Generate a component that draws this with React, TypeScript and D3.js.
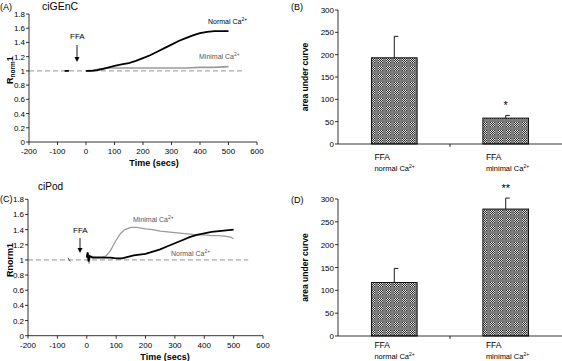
import React from "react";
import * as d3 from "d3";

const W = 562;
const H = 361;
const FONT = "Liberation Sans, Arial, sans-serif";

// Panel A (ciGEnC) traces: [time, Rnorm1]
const aNormal: [number, number][] = [
  [0, 1.0], [20, 1.0], [40, 1.01], [60, 1.03], [80, 1.05], [100, 1.07], [125, 1.09],
  [150, 1.11], [175, 1.14], [200, 1.18], [225, 1.22], [250, 1.27], [275, 1.32],
  [300, 1.37], [325, 1.42], [350, 1.46], [375, 1.5], [400, 1.53], [425, 1.55],
  [450, 1.56], [475, 1.56], [500, 1.56],
];
const aMinimal: [number, number][] = [
  [0, 1.0], [25, 1.01], [50, 1.03], [75, 1.04], [100, 1.04], [150, 1.04], [200, 1.04],
  [250, 1.04], [300, 1.04], [350, 1.04], [400, 1.05], [450, 1.05], [500, 1.06],
];
const aPre: [number, number][] = [[-75, 1.0], [-60, 1.0]];

// Panel C (ciPod) traces
const cNormal: [number, number][] = [
  [0, 1.03], [3, 1.1], [6, 0.98], [10, 1.05], [20, 1.03], [40, 1.03], [60, 1.03],
  [80, 1.03], [100, 1.02], [120, 1.02], [140, 1.04], [160, 1.06], [180, 1.07],
  [200, 1.08], [225, 1.11], [250, 1.14], [275, 1.18], [300, 1.22], [325, 1.26],
  [350, 1.3], [375, 1.33], [400, 1.35], [425, 1.37], [450, 1.38], [475, 1.39], [500, 1.4],
];
const cMinimal: [number, number][] = [
  [0, 1.05], [4, 1.09], [8, 0.95], [12, 1.05], [30, 1.04], [50, 1.04], [65, 1.05],
  [80, 1.12], [100, 1.26], [115, 1.35], [130, 1.4], [150, 1.43], [170, 1.43],
  [200, 1.41], [225, 1.4], [250, 1.38], [275, 1.37], [300, 1.36], [325, 1.35],
  [350, 1.34], [375, 1.33], [400, 1.33], [425, 1.32], [450, 1.32], [475, 1.31],
  [490, 1.3], [500, 1.28],
];
const cPre: [number, number][] = [[-64, 1.03], [-60, 1.0], [-56, 0.98]];

// Bar panels
const barCats = ["normal", "minimal"];
const bValues = [193, 58];
const bErrors = [48, 6];
const dValues = [117, 278];
const dErrors = [31, 24];
const timeTicks = [-200, -100, 0, 100, 200, 300, 400, 500, 600];
const rTicks = [0, 0.2, 0.4, 0.6, 0.8, 1, 1.2, 1.4, 1.6, 1.8];
const aucTicks = [0, 50, 100, 150, 200, 250, 300];

type Trace = { data: [number, number][]; color: string; width: number };

function Arrow({ x, y0, y1 }: { x: number; y0: number; y1: number }) {
  return (
    <g>
      <line x1={x} x2={x} y1={y0} y2={y1 - 4} stroke="#000" strokeWidth={0.9} />
      <path d={`M${x - 2.5},${y1 - 5} L${x + 2.5},${y1 - 5} L${x},${y1} Z`} fill="#000" />
    </g>
  );
}

function TracePanel(props: {
  x0: number; x1: number; y0: number; y1: number;
  traces: Trace[]; yLabel: React.ReactNode;
  children?: React.ReactNode; labelY: number; labelX: number;
}) {
  const { x0, x1, y0, y1 } = props;
  const x = d3.scaleLinear().domain([-200, 600]).range([x0, x1]);
  const y = d3.scaleLinear().domain([0, 1.8]).range([y0, y1]);
  const line = d3.line<[number, number]>().x(d => x(d[0])).y(d => y(d[1]));
  return (
    <g fontFamily={FONT}>
      <line x1={x(-200)} x2={x(550)} y1={y(1)} y2={y(1)} stroke="#777" strokeDasharray="5,3" strokeWidth={0.8} />
      {props.traces.map((t, i) => (
        <path key={i} d={line(t.data) || ""} fill="none" stroke={t.color} strokeWidth={t.width} />
      ))}
      <line x1={x0} x2={x0} y1={y0} y2={y1} stroke="#000" strokeWidth={0.8} />
      <line x1={x0} x2={x1} y1={y0} y2={y0} stroke="#000" strokeWidth={0.8} />
      {rTicks.map(t => (
        <g key={t}>
          <line x1={x0 - 3} x2={x0} y1={y(t)} y2={y(t)} stroke="#000" strokeWidth={0.8} />
          <text x={x0 - 4} y={y(t) + 3} fontSize={8} textAnchor="end">{t}</text>
        </g>
      ))}
      {timeTicks.map(t => (
        <g key={t}>
          <line x1={x(t)} x2={x(t)} y1={y0} y2={y0 + 3} stroke="#000" strokeWidth={0.8} />
          <text x={x(t)} y={y0 + 12} fontSize={8} textAnchor="middle">{t}</text>
        </g>
      ))}
      <text x={props.labelX} y={props.labelY} fontSize={9} fontWeight="bold" textAnchor="middle">Time (secs)</text>
      {props.yLabel}
      {props.children}
    </g>
  );
}

function BarPanel(props: {
  x0: number; x1: number; y0: number; y1: number;
  values: number[]; errors: number[]; star: string; labelY: number;
}) {
  const { x0, x1, y0, y1 } = props;
  const x = d3.scaleBand().domain(barCats).range([x0, x1]).paddingInner(0.59).paddingOuter(0.3);
  const y = d3.scaleLinear().domain([0, 300]).range([y0, y1]);
  const mid = (x0 + x1) / 2;
  return (
    <g fontFamily={FONT}>
      {barCats.map((c, i) => {
        const bx = x(c)!;
        const cx = bx + x.bandwidth() / 2;
        const top = y(props.values[i] + props.errors[i]);
        return (
          <g key={c}>
            <line x1={cx} x2={cx} y1={y(props.values[i])} y2={top} stroke="#000" strokeWidth={0.9} />
            <line x1={cx} x2={cx + 4} y1={top} y2={top} stroke="#000" strokeWidth={0.9} />
            <rect x={bx} y={y(props.values[i])} width={x.bandwidth()} height={y0 - y(props.values[i])}
              fill="url(#checker)" stroke="#000" strokeWidth={0.9} />
            <text x={bx + 3} y={props.labelY} fontSize={8.5}>FFA</text>
            <text x={bx + 3} y={props.labelY + 11} fontSize={7.5}>
              {c} Ca<tspan dy={-3} fontSize={5}>2+</tspan>
            </text>
          </g>
        );
      })}
      <text x={x("minimal")! + x.bandwidth() / 2} y={y(props.values[1] + props.errors[1]) - 6}
        fontSize={11} textAnchor="middle">{props.star}</text>
      <line x1={x0} x2={x0} y1={y0} y2={y1} stroke="#000" strokeWidth={0.8} />
      <line x1={x0} x2={x1} y1={y0} y2={y0} stroke="#000" strokeWidth={0.8} />
      <line x1={mid} x2={mid} y1={y0} y2={y0 + 3} stroke="#000" strokeWidth={0.8} />
      {aucTicks.map(t => (
        <g key={t}>
          <line x1={x0 - 3} x2={x0} y1={y(t)} y2={y(t)} stroke="#000" strokeWidth={0.8} />
          <text x={x0 - 4} y={y(t) + 3} fontSize={8} textAnchor="end">{t}</text>
        </g>
      ))}
      <text transform={`translate(${x0 - 30},${(y0 + y1) / 2}) rotate(-90)`} fontSize={8.5}
        fontWeight="bold" textAnchor="middle">area under curve</text>
    </g>
  );
}

const checkerCells = d3.range(25).map(i => ({ cx: i % 5, cy: Math.floor(i / 5) }));

export default function App() {
  return (
    <svg width={W} height={H} style={{ position: "absolute", left: 0, top: 0, background: "#fff" }}>
      <defs>
        <pattern id="checker" width={8} height={8} patternUnits="userSpaceOnUse">
          <rect width={8} height={8} fill="#7c7c7c" />
          {checkerCells.map((c, i) => (
            <rect key={i} x={2 + c.cx} y={2 + c.cy} width={1} height={1}
              fill={(c.cx + c.cy) % 2 === 0 ? "#2a2a2a" : "#e0e0e0"} />
          ))}
        </pattern>
      </defs>
      <rect width={W} height={H} fill="#fff" />

      {/* Panel A */}
      <TracePanel x0={29} x1={257} y0={142} y1={14} labelX={154} labelY={166}
        traces={[
          { data: aMinimal, color: "#9a9a9a", width: 1.6 },
          { data: aNormal, color: "#000", width: 1.8 },
          { data: aPre, color: "#000", width: 1.8 },
        ]}
        yLabel={
          <text transform="translate(13,70) rotate(-90)" fontSize={9} fontWeight="bold" textAnchor="middle">
            R<tspan fontSize={6.5} dy={2}>norm</tspan><tspan dy={-2}>1</tspan>
          </text>
        }>
        <text x={0} y={10} fontSize={9}>(A)</text>
        <text x={42} y={10} fontSize={10.5}>ciGEnC</text>
        <text x={208} y={24} fontSize={7}>Normal Ca<tspan dy={-3} fontSize={5}>2+</tspan></text>
        <text x={199} y={59} fontSize={7} fill="#555">Minimal Ca<tspan dy={-3} fontSize={5}>2+</tspan></text>
        <text x={70} y={39} fontSize={8}>FFA</text>
        <Arrow x={77} y0={45} y1={62} />
      </TracePanel>

      {/* Panel C */}
      <TracePanel x0={28} x1={263} y0={335.7} y1={199.3} labelX={165} labelY={360}
        traces={[
          { data: cMinimal, color: "#9a9a9a", width: 1.3 },
          { data: cPre, color: "#555", width: 1 },
          { data: cNormal, color: "#000", width: 1.8 },
        ]}
        yLabel={
          <text transform="translate(13,260) rotate(-90)" fontSize={9} fontWeight="bold" textAnchor="middle">Rnorm1</text>
        }>
        <text x={0} y={202} fontSize={9}>(C)</text>
        <text x={38} y={190} fontSize={10}>ciPod</text>
        <text x={133} y={222} fontSize={7} fill="#555">Minimal Ca<tspan dy={-3} fontSize={5}>2+</tspan></text>
        <text x={171} y={256} fontSize={7} fill="#555">Normal Ca<tspan dy={-3} fontSize={5}>2+</tspan></text>
        <text x={73} y={233} fontSize={8}>FFA</text>
        <Arrow x={80} y0={238} y1={253} />
      </TracePanel>

      {/* Panel B */}
      <BarPanel x0={338} x1={562} y0={144} y1={10} values={bValues} errors={bErrors} star="*" labelY={160} />
      <text x={291} y={10} fontSize={9} fontFamily={FONT}>(B)</text>

      {/* Panel D */}
      <BarPanel x0={338} x1={562} y0={336} y1={199} values={dValues} errors={dErrors} star="**" labelY={348} />
      <text x={291} y={203} fontSize={9} fontFamily={FONT}>(D)</text>
    </svg>
  );
}
